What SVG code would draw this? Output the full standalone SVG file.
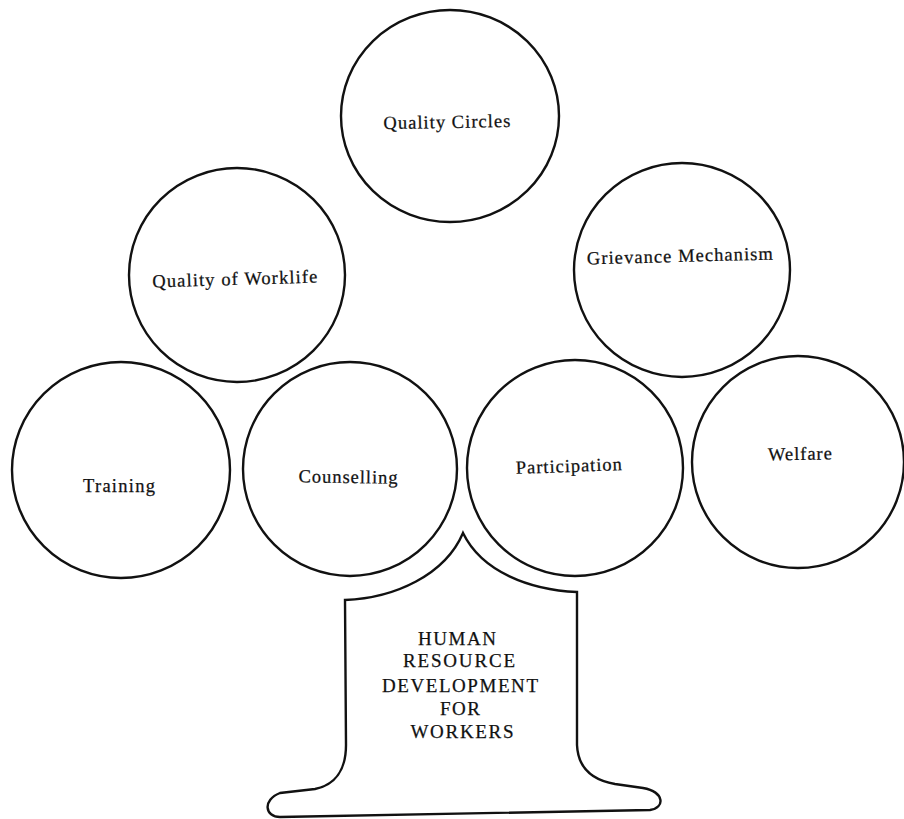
<svg xmlns="http://www.w3.org/2000/svg" width="904" height="819" viewBox="0 0 904 819">
<style>
.c{fill:none;stroke:#111;stroke-width:2.4}
.t{font-family:"Liberation Serif","Times New Roman",serif;font-size:18.5px;fill:#111;stroke:#111;stroke-width:0.25;text-anchor:middle}
.h{font-family:"Liberation Serif","Times New Roman",serif;font-size:19px;fill:#111;stroke:#111;stroke-width:0.25;text-anchor:middle}
</style>
<rect width="904" height="819" fill="#fff"/>
<g id="connectors"/>
<g id="quality-circles">
<ellipse class="c" cx="450" cy="116" rx="109" ry="106"/>
<text class="t" x="447" y="128" textLength="127" lengthAdjust="spacing" transform="rotate(-1 447 128)">Quality Circles</text>
</g>
<g id="quality-of-worklife">
<ellipse class="c" cx="237" cy="275" rx="108" ry="107"/>
<text class="t" x="235" y="285" textLength="165" lengthAdjust="spacing" transform="rotate(-1.7 235 285)">Quality of Worklife</text>
</g>
<g id="grievance-mechanism">
<ellipse class="c" cx="682" cy="270" rx="108" ry="107"/>
<text class="t" x="680" y="262" textLength="186" lengthAdjust="spacing" transform="rotate(-1.5 680 262)">Grievance Mechanism</text>
</g>
<g id="training">
<ellipse class="c" cx="121" cy="470" rx="109" ry="108"/>
<text class="t" x="119" y="492" textLength="72" lengthAdjust="spacing">Training</text>
</g>
<g id="counselling">
<ellipse class="c" cx="350" cy="469" rx="107" ry="107"/>
<text class="t" x="348" y="483" textLength="99" lengthAdjust="spacing" transform="rotate(0.8 348 483)">Counselling</text>
</g>
<g id="participation">
<ellipse class="c" cx="575" cy="468" rx="108" ry="108"/>
<text class="t" x="569" y="472" textLength="106" lengthAdjust="spacing" transform="rotate(-2 569 472)">Participation</text>
</g>
<g id="welfare">
<ellipse class="c" cx="798" cy="462" rx="106" ry="106"/>
<text class="t" x="800" y="460" textLength="64" lengthAdjust="spacing" transform="rotate(-1 800 460)">Welfare</text>
</g>
<g id="hrd-trunk">
<path class="c" stroke-width="2.7" d="M345,600 C395,598 445,575 463,533 C482,572 530,590 577,592 L577,745 C578,768 592,780 615,784 L643,788 C665,792 665,808 650,810 L280,817 C265,817 262,800 280,793 L315,789 C335,785 346,770 346,745 Z"/>
<text class="h" x="457" y="645" textLength="78" lengthAdjust="spacing">HUMAN</text>
<text class="h" x="459" y="667" textLength="112" lengthAdjust="spacing">RESOURCE</text>
<text class="h" x="460" y="692" textLength="156" lengthAdjust="spacing">DEVELOPMENT</text>
<text class="h" x="460" y="715" textLength="40" lengthAdjust="spacing">FOR</text>
<text class="h" x="462" y="738" textLength="103" lengthAdjust="spacing">WORKERS</text>
</g>
</svg>
